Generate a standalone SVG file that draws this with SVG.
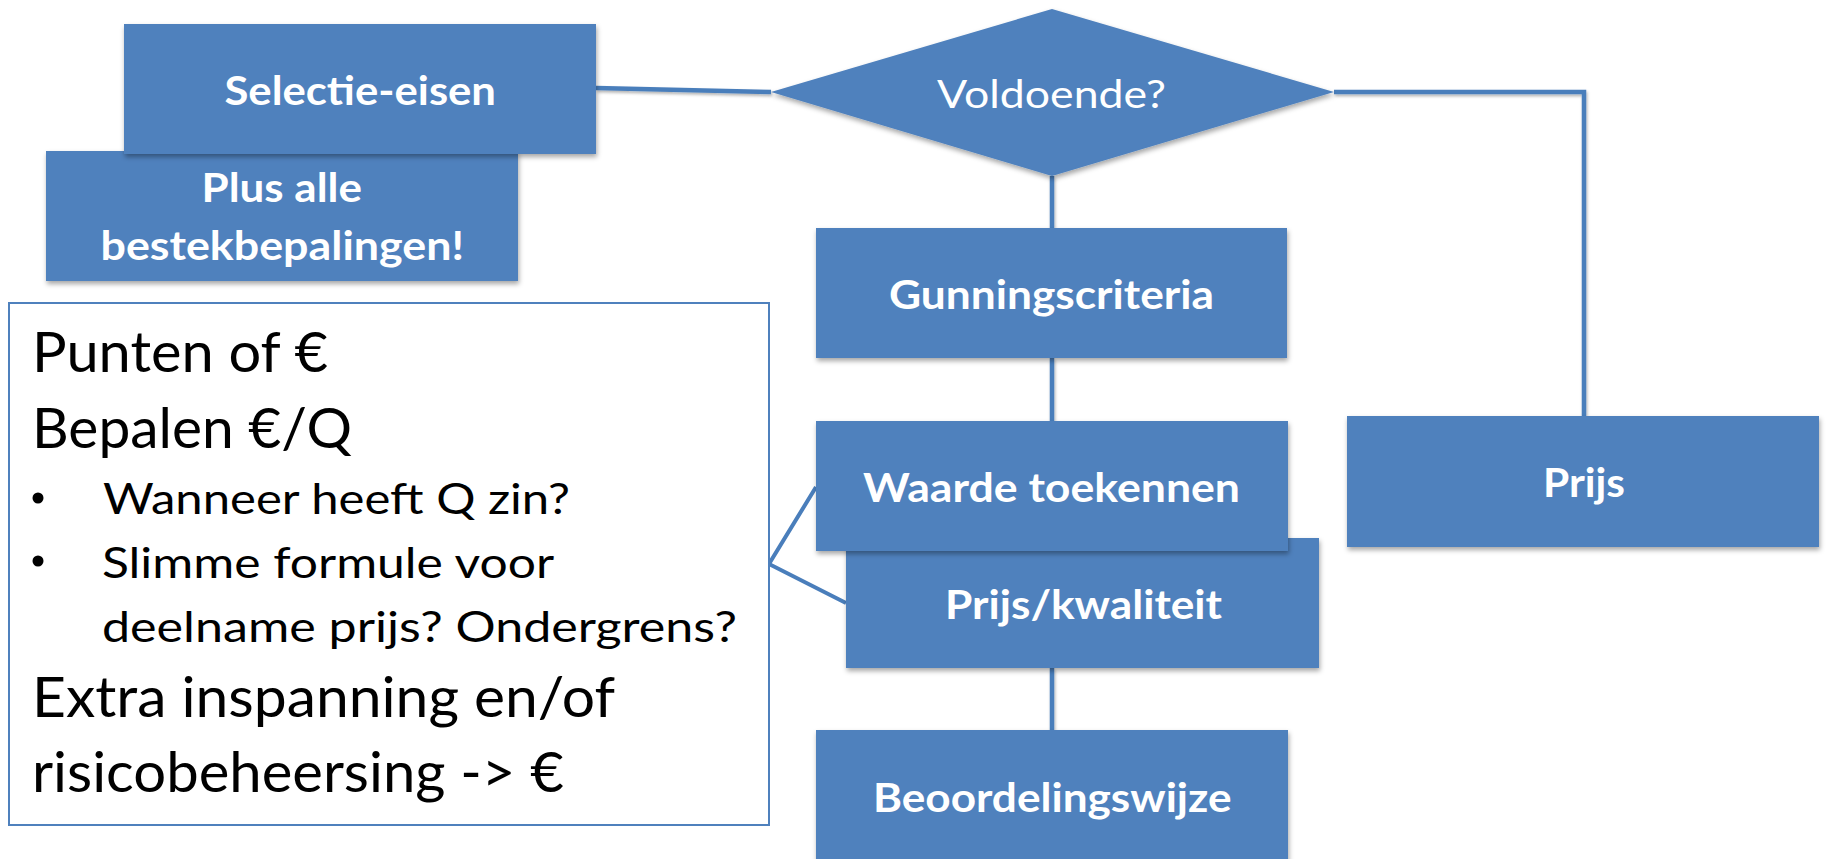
<svg xmlns="http://www.w3.org/2000/svg" width="1827" height="859" viewBox="0 0 1827 859">
  <defs>
    <filter id="sh" x="-10%" y="-10%" width="120%" height="130%">
      <feDropShadow dx="1" dy="3" stdDeviation="2.5" flood-color="#000" flood-opacity="0.35"/>
    </filter>
    <filter id="lsh" filterUnits="userSpaceOnUse" x="0" y="0" width="1827" height="859">
      <feDropShadow dx="1" dy="2" stdDeviation="1.5" flood-color="#000" flood-opacity="0.3"/>
    </filter>
    <style>
      .box { fill: #4F81BD; filter: url(#sh); }
      .conn { fill: none; stroke: #4A7EBB; stroke-width: 4.5; filter: url(#lsh); }
      .call { fill: none; stroke: #4A7EBB; stroke-width: 4; }
      .bt { font-family: Lato, "Open Sans", "Liberation Sans", sans-serif; font-weight: bold; font-size: 40px; fill: #FFFFFF; }
      .rt { font-family: Lato, "Open Sans", "Liberation Sans", sans-serif; font-weight: normal; font-size: 39px; fill: #FFFFFF; }
      .tb { font-family: Lato, "Open Sans", "Liberation Sans", sans-serif; font-size: 56px; fill: #000000; }
      .tbs { font-family: Lato, "Open Sans", "Liberation Sans", sans-serif; font-size: 42px; fill: #000000; }
    </style>
  </defs>
  <rect x="0" y="0" width="1827" height="859" fill="#FFFFFF"/>

  <g id="connectors">
    <path class="conn" d="M596,88 L771,92"/>
    <path class="conn" d="M1334,92 L1584,92 L1584,416"/>
    <path class="conn" d="M1052,176 L1052,228"/>
    <path class="conn" d="M1052,358 L1052,421"/>
    <path class="conn" d="M1052,668 L1052,730"/>
    <path class="call" d="M816,487 L769,564 L846,603"/>
  </g>

  <g id="node-plus-alle">
    <rect class="box" x="46" y="151" width="472" height="130"/>
    <text class="bt" x="201.5" y="202" textLength="160.5" lengthAdjust="spacingAndGlyphs">Plus alle</text>
    <text class="bt" x="100.5" y="260" textLength="363.5" lengthAdjust="spacingAndGlyphs">bestekbepalingen!</text>
  </g>

  <g id="node-selectie-eisen">
    <rect class="box" x="124" y="24" width="472" height="130"/>
    <text class="bt" x="224.5" y="105" textLength="271.5" lengthAdjust="spacingAndGlyphs">Selectie-eisen</text>
  </g>

  <g id="node-voldoende">
    <polygon class="box" points="1052,9 1334,92 1052,176 771,92"/>
    <text class="rt" x="937" y="108" textLength="229" lengthAdjust="spacingAndGlyphs">Voldoende?</text>
  </g>

  <g id="node-gunningscriteria">
    <rect class="box" x="816" y="228" width="471" height="130"/>
    <text class="bt" x="889" y="309" textLength="325" lengthAdjust="spacingAndGlyphs">Gunningscriteria</text>
  </g>

  <g id="node-prijs-kwaliteit">
    <rect class="box" x="846" y="538" width="473" height="130"/>
    <text class="bt" x="945" y="619" textLength="277" lengthAdjust="spacingAndGlyphs">Prijs/kwaliteit</text>
  </g>

  <g id="node-waarde-toekennen">
    <rect class="box" x="816" y="421" width="472" height="130"/>
    <text class="bt" x="863" y="502" textLength="377" lengthAdjust="spacingAndGlyphs">Waarde toekennen</text>
  </g>

  <g id="node-beoordelingswijze">
    <rect class="box" x="816" y="730" width="472" height="140"/>
    <text class="bt" x="873" y="812" textLength="358.5" lengthAdjust="spacingAndGlyphs">Beoordelingswijze</text>
  </g>

  <g id="node-prijs">
    <rect class="box" x="1347" y="416" width="472" height="131"/>
    <text class="bt" x="1543" y="497" textLength="82" lengthAdjust="spacingAndGlyphs">Prijs</text>
  </g>

  <g id="node-toelichting">
    <rect x="9" y="303" width="760" height="522" fill="#FFFFFF" stroke="#4F81BD" stroke-width="2"/>
    <text class="tb" x="32" y="372" textLength="296" lengthAdjust="spacingAndGlyphs">Punten of €</text>
    <text class="tb" x="32" y="448" textLength="320" lengthAdjust="spacingAndGlyphs">Bepalen €/Q</text>
    <circle cx="38" cy="498" r="5.5" fill="#000000"/>
    <text class="tbs" x="103" y="514" textLength="467" lengthAdjust="spacingAndGlyphs">Wanneer heeft Q zin?</text>
    <circle cx="38" cy="561" r="5.5" fill="#000000"/>
    <text class="tbs" x="102" y="578" textLength="452" lengthAdjust="spacingAndGlyphs">Slimme formule voor</text>
    <text class="tbs" x="102" y="642" textLength="635" lengthAdjust="spacingAndGlyphs">deelname prijs? Ondergrens?</text>
    <text class="tb" x="32" y="717" textLength="583" lengthAdjust="spacingAndGlyphs">Extra inspanning en/of</text>
    <text class="tb" x="32" y="792" textLength="532" lengthAdjust="spacingAndGlyphs">risicobeheersing -&gt; €</text>
  </g>
</svg>
